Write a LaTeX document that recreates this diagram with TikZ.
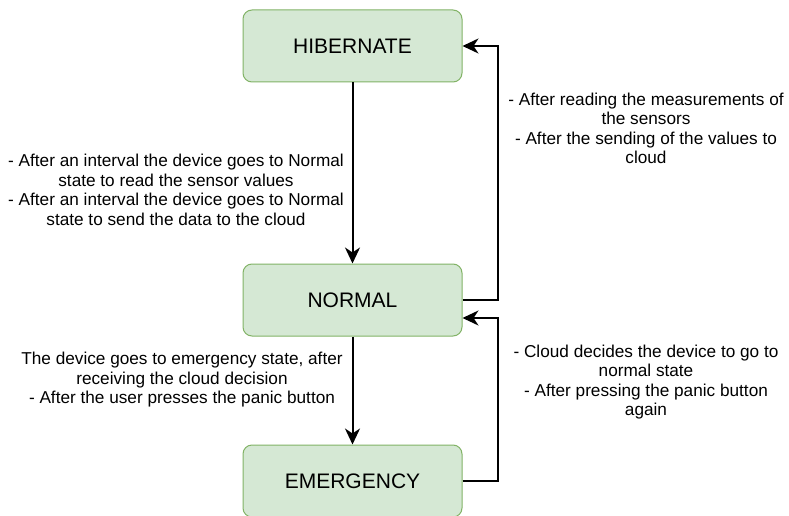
\documentclass[tikz,border=0pt]{standalone}
\usepackage{fontspec}
\setmainfont{Liberation Sans}
\usetikzlibrary{arrows.meta,calc}
\tikzset{
  state/.style={draw=boxgreen, fill=boxfill, line width=1pt, rounded corners=9pt,
    minimum width=219pt, minimum height=72pt, inner sep=0pt,
    font=\fontsize{21}{25}\selectfont},
  lbl/.style={align=center, inner sep=0pt, font=\fontsize{17.2}{19.5}\selectfont},
  arr/.style={draw=black, line width=2pt, -{Stealth[length=16pt,width=15pt,inset=5pt]}}
}
\definecolor{boxgreen}{HTML}{82B366}
\definecolor{boxfill}{HTML}{D5E8D4}
\begin{document}
\begin{tikzpicture}[x=1pt,y=-1pt]
\useasboundingbox (0,0) rectangle (789,516);
\clip (0,0) rectangle (789,516);
\fill[white] (0,0) rectangle (789,516);
\node[state] (hib) at (352.5,46) {HIBERNATE};
\node[state] (nor) at (352.5,300) {NORMAL};
\node[state] (emg) at (352.5,481) {EMERGENCY};
\coordinate (norin) at ($(nor.east)+(0,18)$);
\draw[arr] (hib.south) -- (nor.north);
\draw[arr] (nor.south) -- (emg.north);
\draw[arr] (nor.east) -- ++(35,0) |- (hib.east);
\draw[arr] (emg.east) -- ++(35,0) |- (norin);
\node[lbl] (l1) at (176,190) {- After an interval the device goes to Normal\\state to read the sensor values\\- After an interval the device goes to Normal\\state to send the data to the cloud};
\node[lbl] (l2) at (182,380) {The device goes to emergency state, after\\receiving the cloud decision\\- After the user presses the panic button};
\node[lbl] (r1) at (646,128.5) {- After reading the measurements of\\the sensors\\- After the sending of the values to\\cloud};
\node[lbl] (r2) at (646,382) {- Cloud decides the device to go to\\normal state\\- After pressing the panic button\\again};
\end{tikzpicture}
\end{document}
